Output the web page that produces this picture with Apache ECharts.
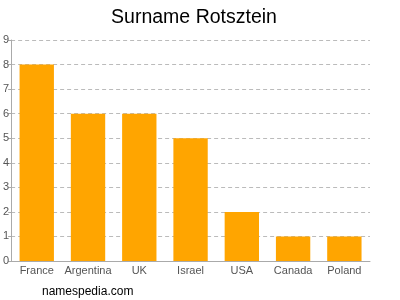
<!DOCTYPE html>
<html><head><meta charset="utf-8">
<script src="https://cdn.jsdelivr.net/npm/echarts@6/dist/echarts.min.js"></script>
<style>html,body{margin:0;padding:0;background:#fff}#c{width:400px;height:300px}</style>
</head><body><div id="c"></div>
<script>
var categories = ['France','Argentina','UK','Israel','USA','Canada','Poland'];
var values = [8,6,6,5,2,1,1];
var chart = echarts.init(document.getElementById('c'), null, {renderer:'canvas'});
chart.setOption({
  animation:false,
  title:[{text:'Surname Rotsztein',left:189,textAlign:'center',top:3,textStyle:{fontFamily:'Liberation Sans, Arial',fontSize:19.5,fontWeight:'normal',color:'#000'}},
         {text:'namespedia.com',left:37,top:281,textStyle:{fontFamily:'Liberation Sans, Arial',fontSize:12,fontWeight:'normal',color:'#000'}}],
  grid:{left:11,right:30,top:40,bottom:39,containLabel:false},
  xAxis:{type:'category',data:categories,
    axisLine:{lineStyle:{color:'#aaa'}},
    axisTick:{alignWithLabel:true,length:4,lineStyle:{color:'#aaa'}},
    axisLabel:{interval:0,color:'#555',fontSize:11,fontFamily:'Liberation Sans, Arial',margin:4}},
  yAxis:{type:'value',min:0,max:9,interval:1,
    axisLine:{show:true,lineStyle:{color:'#aaa'}},
    axisTick:{show:true,length:3,lineStyle:{color:'#aaa'}},
    axisLabel:{color:'#555',fontSize:11,fontFamily:'Liberation Sans, Arial',margin:2},
    splitLine:{lineStyle:{color:'#bbb',type:[4,3]}}},
  series:[{type:'bar',data:values,barCategoryGap:'33%',itemStyle:{color:'#FFA500'}}]
});
</script></body></html>
